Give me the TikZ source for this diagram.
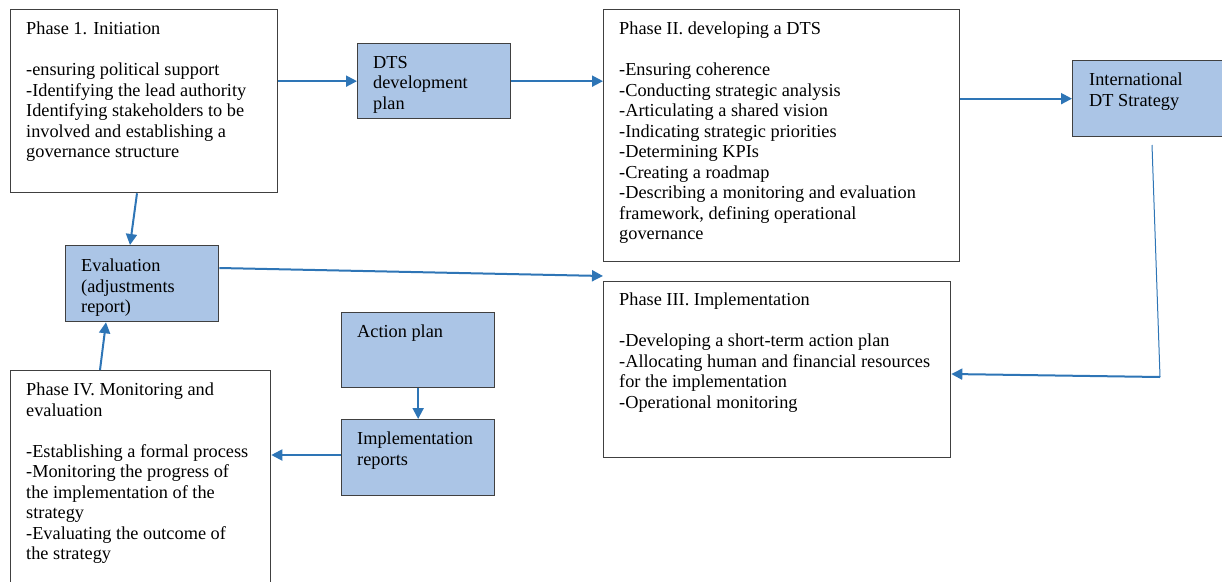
\documentclass[tikz,border=0pt]{standalone}
\usepackage{fontspec}
\setmainfont{Liberation Serif}
\usetikzlibrary{arrows.meta,calc}
\definecolor{boxfill}{RGB}{171,197,230}
\definecolor{arrowblue}{RGB}{46,117,182}
\definecolor{boxline}{RGB}{64,64,64}
\tikzset{
  whitebox/.style={draw=boxline,line width=1.3pt,fill=white,rectangle,anchor=north west,inner sep=0pt},
  bluebox/.style={draw=boxline,line width=1.3pt,fill=boxfill,rectangle,anchor=north west,inner sep=0pt},
  txt/.style={anchor=north west,inner sep=0pt,align=left,font=\fontsize{18.3}{20.5}\selectfont,text=black},
  conn/.style={draw=arrowblue,line width=2pt,-{Triangle[length=11pt,width=11pt]}},
  thinconn/.style={draw=arrowblue,line width=1pt}
}
\begin{document}
\begin{tikzpicture}[x=1pt,y=-1pt]
\useasboundingbox (0,0) rectangle (1222,581);
% boxes
\node[whitebox,minimum width=267pt,minimum height=183pt] (p1) at (10,9) {};
\node[bluebox,minimum width=153pt,minimum height=75pt] (dts) at (357,43) {};
\node[whitebox,minimum width=356pt,minimum height=252pt] (p2) at (603,9) {};
\node[bluebox,minimum width=160pt,minimum height=76pt] (intl) at (1072,60) {};
\node[bluebox,minimum width=153pt,minimum height=76pt] (ev) at (65,245) {};
\node[whitebox,minimum width=347pt,minimum height=176pt] (p3) at (603,281) {};
\node[bluebox,minimum width=153pt,minimum height=75pt] (ap) at (341,312) {};
\node[bluebox,minimum width=153pt,minimum height=76pt] (ir) at (341,419) {};
\node[whitebox,minimum width=260pt,minimum height=225pt] (p4) at (10,370) {};
% texts
\node[txt] (p1t) at ($(p1.north west)+(16,13)$) {Phase 1. Initiation\\[20.5pt]-ensuring political support\\-Identifying the lead authority\\Identifying stakeholders to be\\involved and establishing a\\governance structure};
\node[txt] (dtst) at ($(dts.north west)+(16,13)$) {DTS\\development\\plan};
\node[txt] (p2t) at ($(p2.north west)+(16,13)$) {Phase II. developing a DTS\\[20.5pt]-Ensuring coherence\\-Conducting strategic analysis\\-Articulating a shared vision\\-Indicating strategic priorities\\-Determining KPIs\\-Creating a roadmap\\-Describing a monitoring and evaluation\\framework, defining operational\\governance};
\node[txt] (intlt) at ($(intl.north west)+(17,13)$) {International\\DT Strategy};
\node[txt] (evt) at ($(ev.north west)+(16,14)$) {Evaluation\\(adjustments\\report)};
\node[txt] (p3t) at ($(p3.north west)+(16,12)$) {Phase III. Implementation\\[20.5pt]-Developing a short-term action plan\\-Allocating human and financial resources\\for the implementation\\-Operational monitoring};
\node[txt] (apt) at ($(ap.north west)+(16,13)$) {Action plan};
\node[txt] (irt) at ($(ir.north west)+(16,13)$) {Implementation\\reports};
\node[txt] (p4t) at ($(p4.north west)+(16,13)$) {Phase IV. Monitoring and\\evaluation\\[20.5pt]-Establishing a formal process\\-Monitoring the progress of\\the implementation of the\\strategy\\-Evaluating the outcome of\\the strategy};
% connectors
\draw[conn] (p1.east |- dts.west) -- (dts.west);
\draw[conn] (dts.east) -- (dts.east -| p2.west);
\draw[conn] (p2.east |- intl.west) -- (intl.west);
\coordinate (ia) at (1152,145);
\coordinate (ib) at (1160,377);
\draw[thinconn] (ia) -- (ib);
\draw[conn] (ib) -- ($(p3.north east)+(0,93)$);
\draw[conn] ($(p1.south west)+(127,0)$) -- ($(ev.north west)+(65,0)$);
\draw[conn] ($(ev.north east)+(0,23)$) -- ($(p3.north west)+(0,-5)$);
\draw[conn] ($(p4.north west)+(90,0)$) -- ($(ev.south west)+(41,0)$);
\draw[conn] (ap.south) -- (ir.north);
\draw[conn] ($(ir.north west)+(0,36)$) -- ($(p4.north east)+(0,85)$);
\end{tikzpicture}
\end{document}
